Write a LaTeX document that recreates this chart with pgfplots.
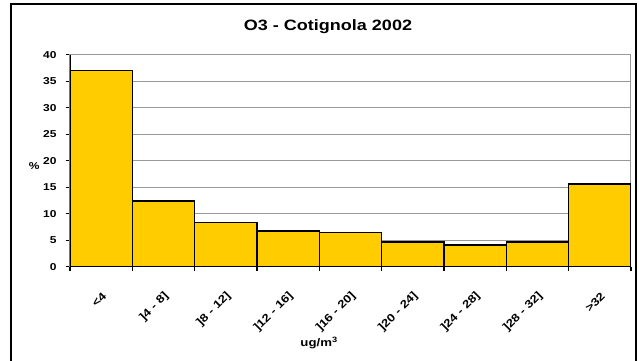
\documentclass[border=0pt]{standalone}
\usepackage{pgfplots}
\pgfplotsset{compat=1.18}
\usepackage{fontspec}
\setmainfont{Liberation Sans}[FakeStretch=1.2]
\definecolor{barfill}{HTML}{FFCC00}
\definecolor{gridgray}{HTML}{999999}
\begin{document}
\begin{tikzpicture}[x=1pt,y=1pt]
\useasboundingbox (0,0) rectangle (639,360);
\draw[line width=2.5pt] (11,-10) -- (11,356) -- (636,356) -- (636,-10);
\node[font=\bfseries\fontsize{15}{18}\selectfont] at (328,333) {O3 - Cotignola 2002};
\begin{axis}[
  at={(70pt,93.3pt)}, anchor=south west,
  scale only axis, width=561pt, height=212pt,
  xmin=-0.5, xmax=8.5, ymin=0, ymax=40,
  ytick={0,5,...,40},
  xtick={0,...,8},
  xticklabels={{<4},{]4 - 8]},{]8 - 12]},{]12 - 16]},{]16 - 20]},{]20 - 24]},{]24 - 28]},{]28 - 32]},{>32}},
  minor xtick={-0.5,0.5,...,8.5},
  tick pos=left, tick align=outside,
  major tick length=4pt, minor tick length=4pt,
  x tick style={draw=none}, minor x tick style={draw=black, line width=1.2pt},
  y tick style={black, line width=1.2pt},
  ymajorgrids, grid style={gridgray, line width=1pt},
  axis line style={gridgray, line width=1pt},
  /pgf/number format/assume math mode=true,
  ticklabel style={font=\bfseries\fontsize{10}{12}\selectfont},
  yticklabel style={xshift=-6pt},
  xticklabel style={font=\bfseries\fontsize{11}{12}\selectfont, rotate=45, anchor=east, yshift=-19pt, xshift=-11pt},
  xlabel={ug/m\textsuperscript{3}},
  xlabel style={font=\bfseries\fontsize{11}{12}\selectfont, at={(rel axis cs:0.444,0)}, anchor=center, yshift=-76pt},
  ylabel={\%},
  ylabel style={font=\bfseries\fontsize{10}{12}\selectfont, rotate=-90, at={(rel axis cs:0,0.5)}, anchor=east, xshift=-27pt, yshift=-5pt},
]
\addplot[ybar, bar width=1, fill=barfill, draw=black, line width=1.5pt]
  coordinates {(0,37.0) (1,12.4) (2,8.3) (3,6.7) (4,6.5) (5,4.7) (6,4.1) (7,4.7) (8,15.6)};
\draw[black, line width=1.5pt] (rel axis cs:0,1) -- (rel axis cs:0,0) -- (rel axis cs:1,0);
\end{axis}
\end{tikzpicture}
\end{document}
